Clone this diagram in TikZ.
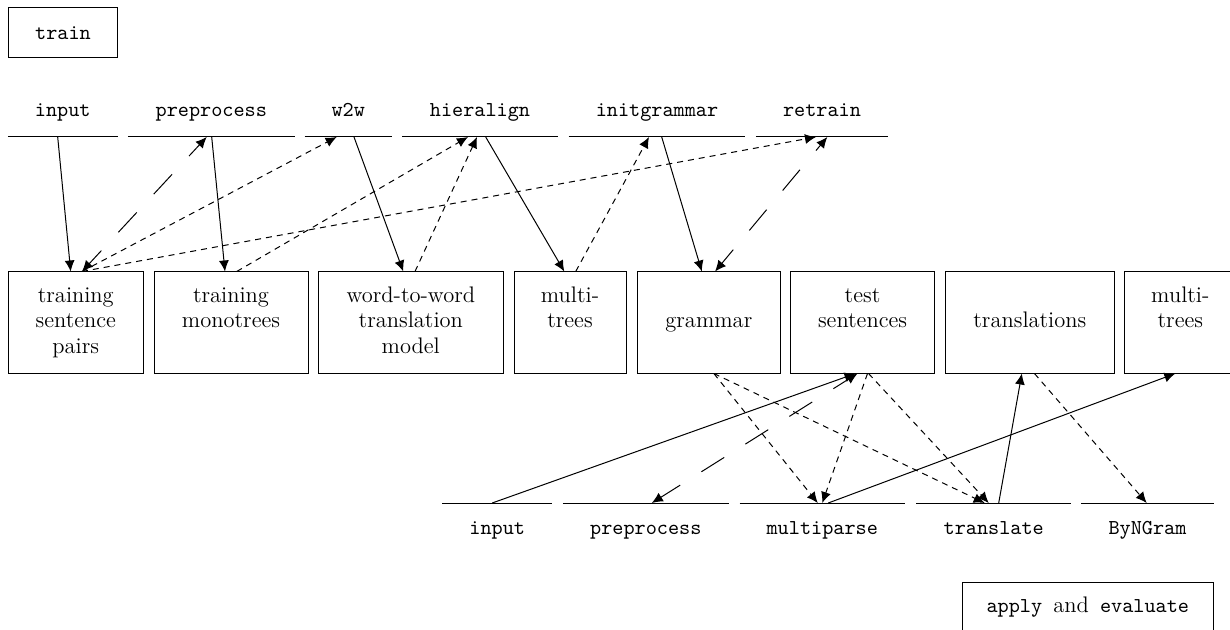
\documentclass[tikz,border=0pt]{standalone}
\usetikzlibrary{arrows.meta,calc}

% type sizes for the data boxes and the command labels
\newcommand\rmsz{\fontsize{11.25pt}{12.75pt}\selectfont}
\newcommand\ttsz{\fontsize{10.6pt}{12.75pt}\selectfont\ttfamily}
% three strut-height lines, so every data box lines its text up the same way
\newcommand\trio[3]{\strut#1\\\strut#2\\\strut#3}

\begin{document}
\begin{tikzpicture}[x=0.5pt,y=-0.5pt,
  databox/.style={draw, line width=0.5pt, rectangle, minimum width=#1,
    minimum height=50.5pt, inner sep=0pt, align=center, font=\rmsz},
  cmdbox/.style={draw, line width=0.5pt, rectangle, minimum width=#1,
    minimum height=25pt, inner sep=0pt, font=\ttsz},
  toptask/.style={minimum width=#1, inner xsep=0pt, inner ysep=10.15pt,
    text height=7pt, text depth=0pt, anchor=south, font=\ttsz},
  bottask/.style={minimum width=#1, inner xsep=0pt, inner ysep=8.5pt,
    text height=7pt, text depth=0pt, anchor=north, font=\ttsz},
  tip/.tip={Latex[length=5.5pt,width=5pt]},
  solidflow/.style={-tip, line width=0.5pt},
  readflow/.style={-tip, line width=0.5pt, dash pattern=on 3pt off 2.5pt},
  twoway/.style={tip-tip, line width=0.5pt,
    dash pattern=on 13.5pt off 12.5pt, dash phase=4.5pt},
]
\useasboundingbox (0,0) rectangle (1230,630);
\clip (0,0) rectangle (1230,630);

% training stage
\node[cmdbox=54.7pt] (train) at (63,33) {train};

\node[toptask=54.5pt]  (tin)   at (62.8,137)  {input};
\node[toptask=83pt]    (tpre)  at (211.3,137) {preprocess};
\node[toptask=43.35pt] (tw2w)  at (348.3,137) {w2w};
\node[toptask=77.3pt]  (thier) at (480,137)   {hieralign};
\node[toptask=88pt]    (tinit) at (657,137)   {initgrammar};
\node[toptask=65.85pt] (tretr) at (822,137)   {retrain};
\foreach \n in {tin,tpre,tw2w,thier,tinit,tretr}
  \draw[line width=0.5pt] (\n.south west) -- (\n.south east);

% data
\node[databox=67.5pt]  (tsp)    at (75.8,322.5)   {\trio{training}{sentence}{pairs}};
\node[databox=77pt]    (tmono)  at (231,322.5)    {\trio{training}{monotrees}{}};
\node[databox=92.5pt]  (wmodel) at (410.8,322.5)  {\trio{word-to-word}{translation}{model}};
\node[databox=56pt]    (mtrain) at (570,322.5)    {\trio{multi-}{trees}{}};
\node[databox=71.15pt] (gram)   at (708.85,322.5) {\trio{}{grammar}{}};
\node[databox=71.8pt]  (tests)  at (862.5,322.5)  {\trio{test}{sentences}{}};
\node[databox=84.15pt] (transl) at (1029.85,322.5){\trio{}{translations}{}};
\node[databox=56pt]    (mtest)  at (1180.3,322.5) {\trio{multi-}{trees}{}};

% application stage
\node[bottask=54.5pt]  (bin)    at (497.2,503)  {input};
\node[bottask=82.5pt]  (bpre)   at (645.8,503)  {preprocess};
\node[bottask=82.25pt] (bparse) at (822.25,503) {multiparse};
\node[bottask=77pt]    (btrans) at (993.7,503)  {translate};
\node[bottask=65.8pt]  (bngram) at (1147.5,503) {ByNGram};
\foreach \n in {bin,bpre,bparse,btrans,bngram}
  \draw[line width=0.5pt] (\n.north west) -- (\n.north east);

\node[cmdbox=125.5pt] (apply) at (1087.8,607) {apply {\rmfamily\rmsz and} evaluate};

% training connections
\draw[solidflow] ($(tin.south)+(-5.1,0)$) -- ($(tsp.north)+(-5.1,0)$);
\draw[twoway]    ($(tsp.north)+(6.2,0)$) -- ($(tpre.south)+(-4.6,0)$);
\draw[readflow]  ($(tsp.north)+(6.2,0)$) -- ($(tw2w.south)+(-11.6,0)$);
\draw[readflow]  ($(tsp.north)+(6.2,0)$) -- ($(tretr.south)+(-6,0)$);
\draw[solidflow] ($(tpre.south)+(0.4,0)$) -- ($(tmono.north)+(-6,0)$);
\draw[readflow]  ($(tmono.north)+(5.7,0)$) -- ($(thier.south)+(-12,0)$);
\draw[solidflow] ($(tw2w.south)+(5.7,0)$) -- ($(wmodel.north)+(-7.5,0)$);
\draw[readflow]  ($(wmodel.north)+(4.2,0)$) -- ($(thier.south)+(-3,0)$);
\draw[solidflow] ($(thier.south)+(5.7,0)$) -- ($(mtrain.north)+(-5.7,0)$);
\draw[readflow]  ($(mtrain.north)+(5.7,0)$) -- ($(tinit.south)+(-8,0)$);
\draw[solidflow] ($(tinit.south)+(4.7,0)$) -- ($(gram.north)+(-7,0)$);
\draw[twoway]    ($(gram.north)+(6.2,0)$) -- ($(tretr.south)+(5.3,0)$);

% application connections
\draw[solidflow] ($(bin.north)+(-5,0)$) -- ($(tests.south)+(-7,0)$);
\draw[twoway]    ($(tests.south)+(-5,0)$) -- ($(bpre.north)+(6,0)$);
\draw[readflow]  ($(gram.south)+(5,0)$) -- ($(bparse.north)+(-4.5,0)$);
\draw[readflow]  ($(gram.south)+(5,0)$) -- ($(btrans.north)+(-9,0)$);
\draw[readflow]  ($(tests.south)+(5,0)$) -- ($(bparse.north)+(0,0)$);
\draw[readflow]  ($(tests.south)+(6,0)$) -- ($(btrans.north)+(-5,0)$);
\draw[solidflow] ($(bparse.north)+(6,0)$) -- ($(mtest.south)+(-5,0)$);
\draw[solidflow] ($(btrans.north)+(5,0)$) -- ($(transl.south)+(-8,0)$);
\draw[readflow]  ($(transl.south)+(4.6,0)$) -- ($(bngram.north)+(-0.8,0)$);
\end{tikzpicture}
\end{document}
